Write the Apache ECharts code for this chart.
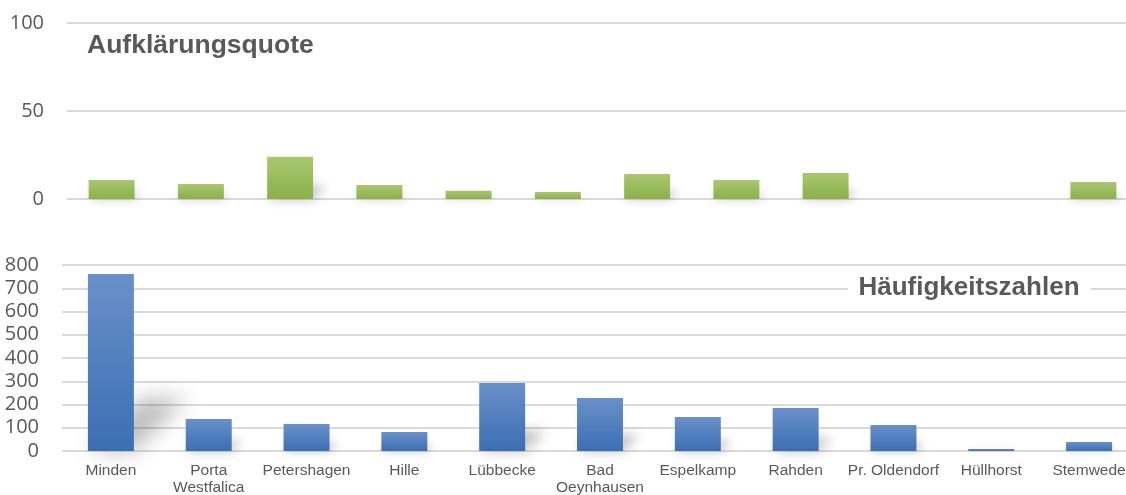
<!DOCTYPE html>
<html>
<head>
<meta charset="utf-8">
<script src="https://cdn.jsdelivr.net/npm/echarts@6/dist/echarts.min.js"></script>
<style>
  html, body { margin: 0; padding: 0; background: #ffffff; }
  #chart { width: 1126px; height: 495px; }
</style>
</head>
<body>
<div id="chart"></div>
<script>
// Municipalities of the district (lower chart categories)
const cities = ['Minden', 'Porta Westfalica', 'Petershagen', 'Hille', 'Lübbecke', 'Bad Oeynhausen',
                'Espelkamp', 'Rahden', 'Pr. Oldendorf', 'Hüllhorst', 'Stemwede'];
// Upper chart has one extra slot at the end
const quoteCategories = cities.concat(['Kreis Minden-Lübbecke']);

// Aufklärungsquote (%)
const quoteValues = [10.8, 8.5, 24, 8, 4.7, 4, 14.2, 10.8, 14.8, null, null, 9.7];
// Häufigkeitszahlen
const haeufigkeitValues = [761, 138, 116, 82, 292, 228, 146, 185, 112, 9, 39];

// Axis ticks
const quoteTicks = [0, 50, 100];
const haeufigkeitTicks = [0, 100, 200, 300, 400, 500, 600, 700, 800];

// Names that break onto two lines under the axis
const wrappedNames = ['Porta Westfalica', 'Bad Oeynhausen'];

const TEXT = '#595959';
const GRID = '#dadada';

// Soft perspective shadow behind each bar (drawn offscreen, only its blurred shadow is visible)
function perspectiveShadow(widthRatio) {
  return function (params, api) {
    const v = api.value(1);
    if (v == null || isNaN(v)) return null;
    const i = api.value(0);
    const base = api.coord([i, 0]);
    const top = api.coord([i, v]);
    const half = api.size([1, 0])[0] * widthRatio / 2;
    const d = (base[1] - top[1]) * 0.3;
    const OFF = 4000;
    const x0 = base[0] - half - OFF, x1 = base[0] + half - OFF, y = base[1];
    return {
      type: 'polygon',
      silent: true,
      shape: { points: [[x0, y], [x1, y], [x1 + d, y - d], [x0 + d, y - d]] },
      style: {
        fill: '#000',
        shadowBlur: 8 + d * 0.25,
        shadowColor: 'rgba(0,0,0,0.26)',
        shadowOffsetX: OFF
      }
    };
  };
}

const chart = echarts.init(document.getElementById('chart'), null, { renderer: 'canvas' });

const valueAxisCommon = {
  type: 'value',
  axisLine: { show: false },
  axisTick: { show: false },
  splitLine: { lineStyle: { color: GRID, width: 2 } },
  axisLabel: { color: TEXT, fontFamily: 'Open Sans', fontSize: 20, margin: 23 }
};

chart.setOption({
  animation: false,
  backgroundColor: '#ffffff',
  // Both plot areas run past the right edge of the canvas
  grid: [
    { left: 67, width: 1071, top: 23, height: 176, outerBoundsMode: 'none', containLabel: false },
    { left: 62, width: 1076, top: 265, height: 186, outerBoundsMode: 'none', containLabel: false }
  ],
  xAxis: [
    {
      type: 'category', gridIndex: 0, data: quoteCategories,
      axisLine: { show: false }, axisTick: { show: false }, axisLabel: { show: false }
    },
    {
      type: 'category', gridIndex: 1, data: cities,
      axisLine: { show: false }, axisTick: { show: false },
      axisLabel: {
        interval: 0, color: TEXT, fontFamily: 'Liberation Sans', fontSize: 15.5,
        lineHeight: 17, margin: 11,
        formatter: function (name) {
          return wrappedNames.indexOf(name) >= 0 ? name.replace(' ', '\n') : name;
        }
      }
    }
  ],
  yAxis: [
    Object.assign({}, valueAxisCommon, {
      gridIndex: 0,
      min: quoteTicks[0], max: quoteTicks[quoteTicks.length - 1],
      interval: quoteTicks[1] - quoteTicks[0]
    }),
    Object.assign({}, valueAxisCommon, {
      gridIndex: 1,
      min: haeufigkeitTicks[0], max: haeufigkeitTicks[haeufigkeitTicks.length - 1],
      interval: haeufigkeitTicks[1] - haeufigkeitTicks[0]
    })
  ],
  series: [
    {
      type: 'custom', xAxisIndex: 0, yAxisIndex: 0, z: 1,
      renderItem: perspectiveShadow(0.515),
      data: quoteValues.map(function (v, i) { return [i, v]; })
    },
    {
      type: 'custom', xAxisIndex: 1, yAxisIndex: 1, z: 1,
      renderItem: perspectiveShadow(0.47),
      data: haeufigkeitValues.map(function (v, i) { return [i, v]; })
    },
    {
      name: 'Aufklärungsquote', type: 'bar', xAxisIndex: 0, yAxisIndex: 0, z: 3,
      barWidth: '51.5%',
      data: quoteValues,
      itemStyle: {
        color: new echarts.graphic.LinearGradient(0, 0, 0, 1, [
          { offset: 0, color: '#a9c772' },
          { offset: 1, color: '#8bb148' }
        ])
      }
    },
    {
      name: 'Häufigkeitszahlen', type: 'bar', xAxisIndex: 1, yAxisIndex: 1, z: 3,
      barWidth: '47%',
      data: haeufigkeitValues,
      itemStyle: {
        color: new echarts.graphic.LinearGradient(0, 0, 0, 1, [
          { offset: 0, color: '#6a90c9' },
          { offset: 1, color: '#3b6fb4' }
        ])
      }
    }
  ],
  graphic: [
    {
      type: 'text', x: 87, y: 46, z: 100,
      style: { text: 'Aufklärungsquote', fill: TEXT, font: 'bold 26.5px "Liberation Sans"',
               verticalAlign: 'middle' }
    },
    {
      type: 'rect', x: 848, y: 272, z: 100,
      shape: { x: 0, y: 0, width: 243, height: 31 },
      style: { fill: '#ffffff' }
    },
    {
      type: 'text', x: 969, y: 288, z: 101,
      style: { text: 'Häufigkeitszahlen', fill: TEXT, font: 'bold 26px "Liberation Sans"',
               align: 'center', verticalAlign: 'middle' }
    }
  ]
});
</script>
</body>
</html>
